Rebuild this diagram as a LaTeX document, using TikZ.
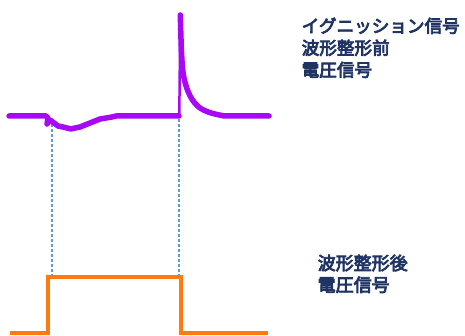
\documentclass[tikz,border=0pt]{standalone}
\usepackage{fontspec}
\newfontfamily\jp{Noto Sans CJK JP}
\newcommand\heavytext[1]{\special{pdf:literal direct 2 Tr 0.75 w}#1\special{pdf:literal direct 0 Tr}}
\definecolor{sigpurple}{RGB}{168,8,245}
\definecolor{sigorange}{RGB}{255,122,18}
\definecolor{guideblue}{RGB}{95,155,215}
\definecolor{labelnavy}{RGB}{32,52,100}
\tikzset{
  rawsig/.style={draw=sigpurple,line width=5.5pt,line join=round,line cap=round},
  shapedsig/.style={draw=sigorange,line width=3.5pt,line join=miter},
  guide/.style={draw=guideblue,line width=1.1pt,dash pattern=on 3pt off 2pt},
  lbl/.style={font=\jp\fontsize{17.6}{22}\selectfont,text=labelnavy,align=left,anchor=north west,inner sep=0pt}
}
\begin{document}
\begin{tikzpicture}[x=1pt,y=-1pt]
\useasboundingbox (0,0) rectangle (465,336);
% guides
\coordinate (g1t) at (52,119);
\coordinate (g1b) at (52,276);
\coordinate (g2t) at (179,119);
\coordinate (g2b) at (179,276);
\draw[guide] (g1t) -- (g1b);
\draw[guide] (g2t) -- (g2b);
% purple raw signal
\draw[rawsig] (9,116) -- (46,116) -- (48,118) -- (47,124) -- (50,120) -- (54,123)
  -- (58,126) -- (63,127) -- (67,128) -- (71,129) -- (75,128) -- (80,127) -- (85,125)
  -- (90,123) -- (95,121) -- (100,119) -- (106,118) -- (112,117) -- (116,116) -- (179,116);
\draw[draw=sigpurple,line width=2.5pt,line join=round] (179.3,116) -- (180.3,15);
\draw[rawsig] (180.3,15) .. controls (181.2,50) and (182,70) .. (184,78)
  .. controls (187,92) and (192,102) .. (200,108)
  .. controls (208,113) and (215,114) .. (224,116) -- (269,116);
% orange shaped signal
\draw[shapedsig] (10,333) -- (48,333) -- (48,277) -- (181,277) -- (181,333) -- (268,333);
% labels
\node[lbl] (t1) at (301.5,17.5) {\heavytext{イグニッション信号}\\\heavytext{波形整形前}\\\heavytext{電圧信号}};
\node[lbl,font=\jp\fontsize{18}{21.7}\selectfont] (t2) at (317.5,254.5) {\heavytext{波形整形後}\\\heavytext{電圧信号}};
\end{tikzpicture}
\end{document}
